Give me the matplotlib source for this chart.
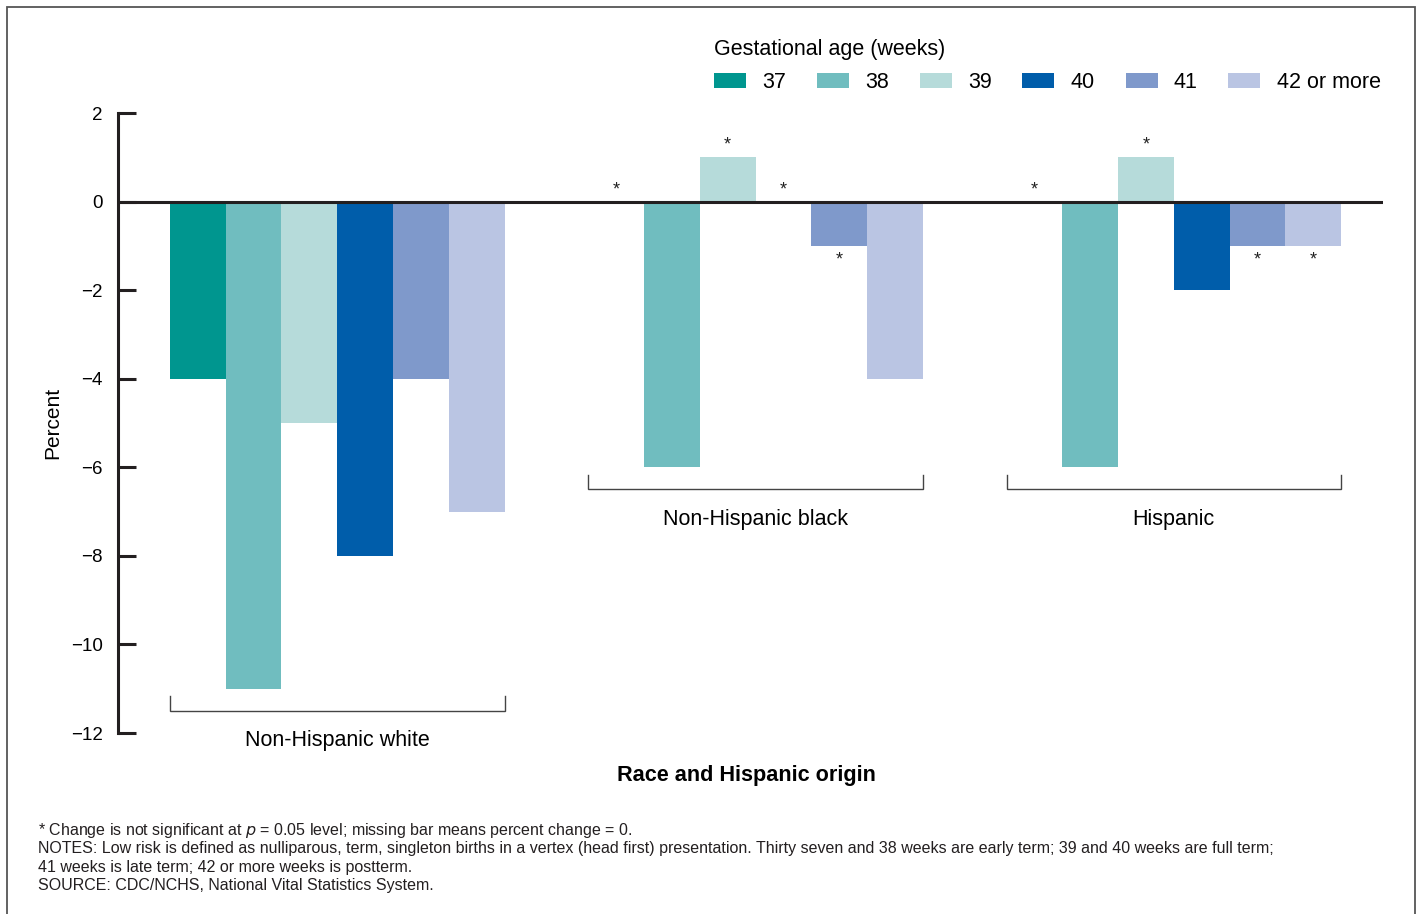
import matplotlib.pyplot as plt
from matplotlib.patches import Patch, Rectangle
import numpy as np

plt.rcParams['font.family'] = ['Liberation Sans', 'DejaVu Sans']

# ---------- DATA ----------
groups = ["Non-Hispanic white", "Non-Hispanic black", "Hispanic"]
ages = ["37", "38", "39", "40", "41", "42 or more"]
colors = ["#00968F", "#70BDBF", "#B6DBDA", "#005DAA", "#7F99CB", "#BAC5E3"]

pct_white = [-4, -11, -5, -8, -4, -7]
pct_black = [0, -6, 1, 0, -1, -4]
pct_hisp = [0, -6, 1, -2, -1, -1]

# True where the change is not significant (marked with *)
ns_white = [False, False, False, False, False, False]
ns_black = [True, False, True, True, True, False]
ns_hisp = [True, False, True, False, True, True]

values = [pct_white, pct_black, pct_hisp]
not_sig = [ns_white, ns_black, ns_hisp]

# ---------- LAYOUT ----------
W, H = 1419, 914
fig = plt.figure(figsize=(W / 100, H / 100), dpi=100)
ax = fig.add_axes([118 / W, 1 - 733 / H, (1383 - 118) / W, (733 - 113) / H])

bar_w = 1.0
group_step = 7.5
offsets = np.arange(len(ages)) - 2.5

for g, (vals, ns) in enumerate(zip(values, not_sig)):
    xs = g * group_step + offsets
    for i, (x, v) in enumerate(zip(xs, vals)):
        if v != 0:
            ax.bar(x, v, width=bar_w, color=colors[i], linewidth=0)
        if ns[i]:
            y = v + 0.27 if v >= 0 else v - 0.33
            ax.text(x, y, "*", ha="center", va="center", fontsize=13, color="#222222")

    # bracket under each group
    left = g * group_step - 3
    right = g * group_step + 3
    yb = min(vals) - 0.5
    ax.plot([left, left, right, right], [yb + 0.33, yb, yb, yb + 0.33],
            color="#444444", lw=1.0, solid_joinstyle="miter")
    ax.text(g * group_step, yb - 0.67, groups[g], ha="center", va="center", fontsize=15.5)

ax.axhline(0, color="#231F20", lw=2.2, zorder=5)

ax.set_xlim(-3.93, 18.75)
ax.set_ylim(-12, 2)
ax.set_yticks(np.arange(-12, 3, 2))
ax.set_yticklabels([str(t).replace("-", "\u2212") for t in range(-12, 3, 2)], fontsize=13.5)
ax.tick_params(axis="y", direction="in", length=13, width=2.2, color="#231F20", pad=11)
ax.set_xticks([])
for side in ["top", "right", "bottom"]:
    ax.spines[side].set_visible(False)
ax.spines["left"].set_linewidth(2.2)
ax.spines["left"].set_color("#231F20")
ax.set_ylabel("Percent", fontsize=15, labelpad=6)

# ---------- LEGEND ----------
handles = [Patch(facecolor=c, edgecolor="none") for c in colors]
leg = fig.legend(handles, ages, loc="upper left", bbox_to_anchor=(714 / W, 1 - 39 / H),
                 ncol=6, frameon=False, fontsize=15.5, title="Gestational age (weeks)",
                 title_fontsize=15.5, alignment="left", handlelength=1.49, handleheight=0.72,
                 handletextpad=0.75, columnspacing=1.43, labelspacing=0.55,
                 borderpad=0, borderaxespad=0)

fig.text(746 / W, 1 - 776 / H, "Race and Hispanic origin", ha="center", va="center",
         fontsize=15.6, fontweight="bold")

# ---------- FOOTNOTES ----------
notes = [
    r"* Change is not significant at $\it{p}$ = 0.05 level; missing bar means percent change = 0.",
    "NOTES: Low risk is defined as nulliparous, term, singleton births in a vertex (head first) presentation. "
    "Thirty seven and 38 weeks are early term; 39 and 40 weeks are full term;",
    "41 weeks is late term; 42 or more weeks is postterm.",
    "SOURCE: CDC/NCHS, National Vital Statistics System.",
]
for k, line in enumerate(notes):
    fig.text(38 / W, 1 - (830 + k * 18.6) / H, line, ha="left", va="center", fontsize=11.5,
             color="#231F20")

# outer frame
fig.patches.append(Rectangle((7 / W, -0.01), (1415 - 7) / W, 1.01 - 7 / H,
                             transform=fig.transFigure, fill=False, lw=1.3,
                             edgecolor="#555555"))

fig.savefig("out.png", dpi=100)
